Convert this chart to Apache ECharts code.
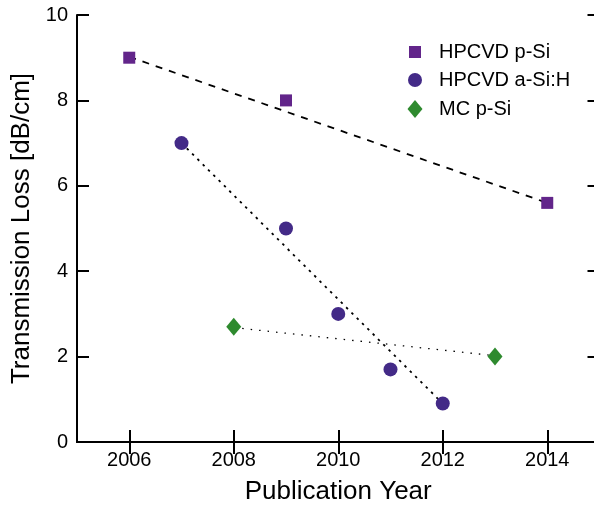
<!DOCTYPE html>
<html>
<head>
<meta charset="utf-8">
<script src="https://cdn.jsdelivr.net/npm/echarts@6/dist/echarts.min.js"></script>
<style>html,body{margin:0;padding:0;background:#fff}#c{width:594px;height:506px}</style>
</head>
<body>
<div id="c"></div>
<script>
// Data
var xTicks = [2006, 2008, 2010, 2012, 2014];
var yTicks = [0, 2, 4, 6, 8, 10];
var pSiHPCVD = [[2006, 9.0], [2009, 8.0], [2014, 5.6]];
var aSiH = [[2007, 7.0], [2009, 5.0], [2010, 3.0], [2011, 1.7], [2012, 0.9]];
var mcPSi = [[2008, 2.7], [2013, 2.0]];
var fitPSi = [[2006, 9.02], [2014, 5.6]];
var fitASiH = [[2007, 7.0], [2012, 0.9]];
var fitMC = [[2008, 2.68], [2013, 2.02]];
var seriesNames = ['HPCVD p-Si', 'HPCVD a-Si:H', 'MC p-Si'];

var FONT = 'Liberation Sans, Arial, Helvetica, sans-serif';
var chart = echarts.init(document.getElementById('c'));
var axisLine = {show: true, lineStyle: {color: '#000', width: 2}};
var tickIn = {show: true, inside: true, length: 12, lineStyle: {color: '#000', width: 2}};

function legendFor(name, w, h, top) {
  return {
    orient: 'vertical',
    left: 415 - w / 2, top: top, padding: 0,
    itemWidth: w, itemHeight: h,
    textStyle: {fontFamily: FONT, fontSize: 20, color: '#000', lineHeight: 20,
      padding: [0, 0, 0, 439 - (415 - w / 2) - w - 5]},
    data: [name]
  };
}

chart.setOption({
  animation: false,
  backgroundColor: '#fff',
  grid: {left: 77, top: 15, width: 522.5, height: 427, containLabel: false, outerBoundsMode: 'none'},
  legend: [
    legendFor(seriesNames[0], 12, 12, 42),
    legendFor(seriesNames[1], 14, 14, 70),
    legendFor(seriesNames[2], 15, 18, 99)
  ],
  xAxis: [{
    type: 'value', min: 2005, max: 2015,
    name: 'Publication Year', nameLocation: 'middle', nameGap: 37,
    nameTextStyle: {fontFamily: FONT, fontSize: 26, color: '#000'},
    axisLine: axisLine,
    axisTick: Object.assign({customValues: xTicks}, tickIn),
    axisLabel: {customValues: xTicks, formatter: function (v) { return String(v); },
      fontFamily: FONT, fontSize: 20, color: '#000', margin: 8},
    splitLine: {show: false}
  }, {
    type: 'value', min: 2005, max: 2015, position: 'top',
    axisLine: axisLine,
    axisTick: Object.assign({customValues: xTicks}, tickIn),
    axisLabel: {show: false},
    splitLine: {show: false}
  }],
  yAxis: [{
    type: 'value', min: 0, max: 10, interval: 2,
    name: 'Transmission Loss [dB/cm]', nameLocation: 'middle', nameGap: 42,
    nameTextStyle: {fontFamily: FONT, fontSize: 26, color: '#000'},
    axisLine: axisLine,
    axisTick: tickIn,
    axisLabel: {fontFamily: FONT, fontSize: 20, color: '#000', margin: 9},
    splitLine: {show: false}
  }, {
    type: 'value', min: 0, max: 10, interval: 2, position: 'right',
    axisLine: axisLine,
    axisTick: tickIn,
    axisLabel: {show: false},
    splitLine: {show: false}
  }],
  series: [
    {type: 'line', data: fitPSi, showSymbol: false, silent: true, z: 1,
     lineStyle: {color: '#000', width: 1.8, type: [7, 7]}},
    {type: 'line', data: fitASiH, showSymbol: false, silent: true, z: 1,
     lineStyle: {color: '#000', width: 1.8, type: [2.5, 5]}},
    {type: 'line', data: fitMC, showSymbol: false, silent: true, z: 1,
     lineStyle: {color: '#000', width: 1.3, type: [1.5, 7]}},
    {name: seriesNames[0], type: 'scatter', data: pSiHPCVD, symbol: 'rect', symbolSize: 12, z: 3,
     itemStyle: {color: '#62258a', opacity: 1}},
    {name: seriesNames[1], type: 'scatter', data: aSiH, symbol: 'circle', symbolSize: 14, z: 3,
     itemStyle: {color: '#432a87', opacity: 1}},
    {name: seriesNames[2], type: 'scatter', data: mcPSi, symbol: 'diamond', symbolSize: [15, 18], z: 3,
     itemStyle: {color: '#2e8a2e', opacity: 1}}
  ]
});
</script>
</body>
</html>
